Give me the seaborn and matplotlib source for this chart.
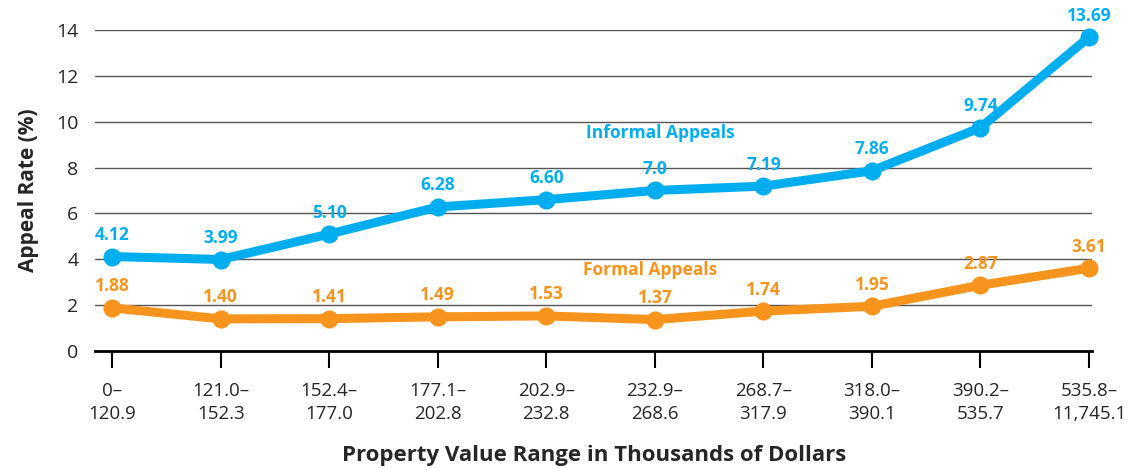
import pandas as pd
import matplotlib.pyplot as plt
import seaborn as sns

ranges = ["0–\n120.9", "121.0–\n152.3", "152.4–\n177.0", "177.1–\n202.8", "202.9–\n232.8",
          "232.9–\n268.6", "268.7–\n317.9", "318.0–\n390.1", "390.2–\n535.7", "535.8–\n11,745.1"]
informal = [4.12, 3.99, 5.10, 6.28, 6.60, 7.0, 7.19, 7.86, 9.74, 13.69]
informal_labels = ["4.12", "3.99", "5.10", "6.28", "6.60", "7.0", "7.19", "7.86", "9.74", "13.69"]
formal = [1.88, 1.40, 1.41, 1.49, 1.53, 1.37, 1.74, 1.95, 2.87, 3.61]
formal_labels = ["1.88", "1.40", "1.41", "1.49", "1.53", "1.37", "1.74", "1.95", "2.87", "3.61"]

BLUE = "#00AEEF"
ORANGE = "#F7941D"

sns.set_theme(style="white")
plt.rcParams["font.family"] = ["Open Sans", "DejaVu Sans"]

df = pd.DataFrame({
    "pos": list(range(len(ranges))) * 2,
    "rate": informal + formal,
    "series": ["Informal Appeals"] * len(ranges) + ["Formal Appeals"] * len(ranges),
})

fig = plt.figure(figsize=(11.41, 4.68), dpi=100)
ax = fig.add_axes([0.0833, 0.25, 0.874, 0.686])

for y in range(2, 15, 2):
    ax.axhline(y, color="#555555", lw=1.0, zorder=0)

sns.lineplot(
    data=df, x="pos", y="rate", hue="series",
    palette={"Informal Appeals": BLUE, "Formal Appeals": ORANGE},
    marker="o", markersize=13, markeredgewidth=0, linewidth=6.5,
    legend=False, ax=ax, clip_on=False, zorder=3,
)

for i, (v, t) in enumerate(zip(informal, informal_labels)):
    ax.annotate(t, (i, v), xytext=(0, 9), textcoords="offset points", ha="center", va="bottom",
                color=BLUE, fontsize=12.5, fontweight="bold", annotation_clip=False)
for i, (v, t) in enumerate(zip(formal, formal_labels)):
    ax.annotate(t, (i, v), xytext=(0, 9), textcoords="offset points", ha="center", va="bottom",
                color=ORANGE, fontsize=12.5, fontweight="bold", annotation_clip=False)

ax.text(5.05, 9.5, "Informal Appeals", color=BLUE, fontsize=12.5, fontweight="bold", ha="center", va="center")
ax.text(4.96, 3.55, "Formal Appeals", color=ORANGE, fontsize=12.5, fontweight="bold", ha="center", va="center")

ax.set_xlim(-0.157, 9.03)
ax.set_ylim(0, 14)
ax.set_yticks(range(0, 15, 2))
ax.set_xticks(range(len(ranges)))
ax.set_xticklabels(ranges, fontsize=13.5, linespacing=1.4)
ax.tick_params(axis="y", labelsize=14, length=0, pad=12)
ax.tick_params(axis="x", direction="out", length=12, width=1.5, color="black", pad=10, bottom=True)

for s in ["top", "right", "left"]:
    ax.spines[s].set_visible(False)
ax.spines["bottom"].set_color("black")
ax.spines["bottom"].set_linewidth(2)

ax.set_xlabel("Property Value Range in Thousands of Dollars", fontsize=16, fontweight="bold", labelpad=16)
ax.set_ylabel("Appeal Rate (%)", fontsize=15, fontweight="bold", labelpad=12)

fig.savefig("out.png", dpi=100)
plt.close()
